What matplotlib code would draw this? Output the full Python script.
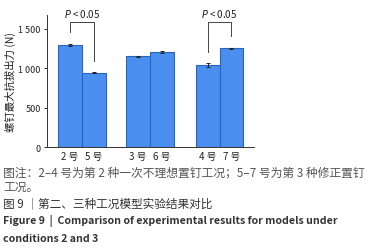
import matplotlib.pyplot as plt
import numpy as np

plt.rcParams['font.family'] = ['Noto Sans CJK SC', 'DejaVu Sans']

# dados
grupos = ['2 号', '5 号', '3 号', '6 号', '4 号', '7 号']
forca = [1295, 940, 1148, 1206, 1038, 1249]
erro = [15, 6, 10, 15, 20, 6]
yticks = [0, 500, 1000, 1500]
ytick_labels = ['0', '500', '1 000', '1 500']

# posições das barras (layout)
xpos = np.array([0, 1, 2.85, 3.85, 5.75, 6.75])

fig = plt.figure(figsize=(3.84, 2.51), dpi=100)
ax = fig.add_axes([0.1224, 0.410, 0.5385, 0.5275])

ax.bar(xpos, forca, width=1.0, color='#4a8ff0', edgecolor='#2a63b8', lw=0.8,
       yerr=erro, error_kw=dict(ecolor='#222222', elinewidth=0.7, capsize=1.2, capthick=0.7))

ax.set_xlim(-0.946, 7.68)
ax.set_ylim(0, 1675)
ax.set_xticks(xpos)
ax.set_xticklabels(grupos, fontsize=7, color='#222222')
ax.set_yticks(yticks)
ax.set_yticklabels(ytick_labels, fontsize=6.5, color='#222222')
ax.tick_params(axis='x', length=0, pad=3)
ax.tick_params(axis='y', length=2.5, width=0.6, pad=2)
ax.set_ylabel('螺钉最大抗拔出力 (N)', fontsize=7.5, color='#222222', labelpad=2)
for s in ['top', 'right']:
    ax.spines[s].set_visible(False)
for s in ['left', 'bottom']:
    ax.spines[s].set_linewidth(0.7)
    ax.spines[s].set_color('#333333')

# colchetes de significância
def colchete(x1, x2, y_esq, y_dir, topo):
    ax.plot([x1, x1, x2, x2], [y_esq, topo, topo, y_dir], color='#444444', lw=0.7, clip_on=False)
    ax.text((x1 + x2) / 2, topo + 40, r'$\it{P}$ < 0.05', ha='center', va='bottom',
            fontsize=7, color='#222222', clip_on=False)

colchete(xpos[0], xpos[1], 1456, 1089, 1586)
colchete(xpos[4], xpos[5], 1206, 1401, 1580)

# legenda da figura
x0 = 0.008
fig.text(x0, 1 - 173 / 251, '图注：2–4 号为第 2 种一次不理想置钉工况；5–7 号为第 3 种修正置钉',
         fontsize=8.5, color='#555555', va='center')
fig.text(x0, 1 - 187 / 251, '工况。', fontsize=8.5, color='#555555', va='center')
fig.text(x0, 1 - 204 / 251, '图 9 ｜第二、三种工况模型实验结果对比', fontsize=8.4,
         color='#333333', va='center')
fig.text(x0, 1 - 221 / 251, 'Figure 9  |  Comparison of experimental results for models under',
         fontsize=7.6, color='#333333', weight='bold', va='center')
fig.text(x0, 1 - 239 / 251, 'conditions 2 and 3', fontsize=7.6, color='#333333',
         weight='bold', va='center')

plt.savefig('out.png', dpi=100)
